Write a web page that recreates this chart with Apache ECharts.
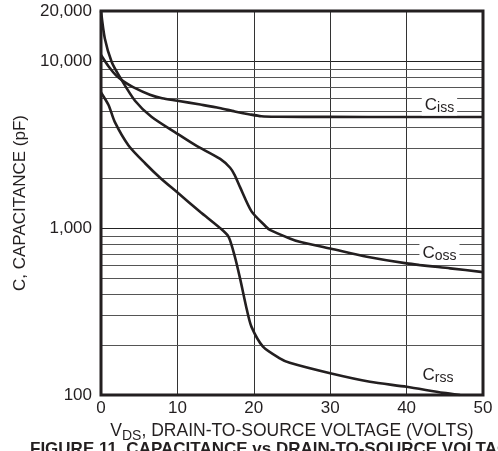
<!DOCTYPE html>
<html>
<head>
<meta charset="utf-8">
<style>
  html, body { margin: 0; padding: 0; background: #fff; }
  #main { width: 498px; height: 451px; }
</style>
<script src="https://cdn.jsdelivr.net/npm/echarts@6/dist/echarts.min.js"></script>
</head>
<body>
<div id="main"></div>
<script>
// V_DS (volts), C (pF)
const ciss = [
    [0, 10900], [1, 9300], [2, 8200], [3, 7550], [4.2, 7000], [6.4, 6300],
    [8, 6000], [10, 5800], [13, 5500], [15.5, 5250], [17.5, 5000], [19.5, 4800],
    [21, 4680], [23, 4650], [30, 4640], [40, 4630], [50, 4630]
];
const coss = [
    [0, 20000], [0.5, 13700], [1.4, 9900], [2.5, 8000], [4.45, 5800], [6.6, 4650],
    [9.9, 3700], [12.3, 3150], [15.6, 2600], [16.9, 2300], [17.5, 2080], [18.2, 1760],
    [19.7, 1260], [21.5, 1030], [22.1, 975], [24.7, 867], [26, 828], [30, 755],
    [34.8, 673], [40, 615], [45.7, 574], [50, 545]
];
const crss = [
    [0, 6500], [1, 5450], [1.8, 4330], [3.6, 3130], [5.8, 2440], [7.8, 1990],
    [9.9, 1650], [13, 1250], [15.6, 1000], [16.7, 887], [17.5, 680], [18.2, 500],
    [19.1, 323], [19.7, 256], [21.2, 195], [23.4, 166], [24.7, 156], [30, 135],
    [35.2, 120], [40, 112], [44.8, 103], [47, 100]
];
// minor log grid lines
const minorLines = [200, 300, 400, 500, 600, 700, 800, 900,
    2000, 3000, 4000, 5000, 6000, 7000, 8000, 9000];
// curve labels: [name, subscript, V, C]
const curveLabels = [
    ['C', 'iss', 44.3, 5500],
    ['C', 'oss', 44.3, 715],
    ['C', 'rss', 44.1, 133]
];

const ink = '#231f20';
const font = 'Liberation Sans';
const chart = echarts.init(document.getElementById('main'));

function labelPoint(l) {
    return {
        coord: [l[2], l[3]],
        label: {
            show: true,
            position: 'inside',
            formatter: l[0] + '{s|' + l[1] + '}',
            color: ink,
            fontFamily: font,
            fontSize: 17,
            backgroundColor: '#fff',
            padding: [1, 3, 0, 3],
            rich: {
                s: {fontFamily: font, fontSize: 14, color: ink, padding: [7, 0, 0, 0]}
            }
        }
    };
}

function curve(name, data, lbl) {
    return {
        name: name,
        type: 'line',
        data: data,
        showSymbol: false,
        smooth: 0.25,
        clip: true,
        z: 3,
        lineStyle: {color: ink, width: 2.6},
        markPoint: {
            silent: true,
            symbol: 'rect',
            symbolSize: 1,
            itemStyle: {color: 'rgba(0,0,0,0)'},
            z: 5,
            data: [labelPoint(lbl)]
        }
    };
}

const series = [
    curve('Ciss', ciss, curveLabels[0]),
    curve('Coss', coss, curveLabels[1]),
    curve('Crss', crss, curveLabels[2])
];
series[0].markLine = {
    silent: true,
    symbol: 'none',
    label: {show: false},
    z: 1,
    lineStyle: {color: '#555', width: 1, type: 'solid'},
    data: minorLines.map(v => ({yAxis: v}))
};

const option = {
    animation: false,
    backgroundColor: '#fff',
    textStyle: {fontFamily: font},
    grid: {
        left: 101, right: 15, top: 11, bottom: 56,
        show: true,
        borderColor: ink,
        borderWidth: 3,
        z: 4
    },
    graphic: [{
        type: 'text',
        left: 30,
        top: 441,
        style: {
            text: 'FIGURE 11. CAPACITANCE vs DRAIN-TO-SOURCE VOLTAGE',
            font: 'bold 17px "Liberation Sans"',
            fill: ink
        }
    }],
    xAxis: {
        type: 'value',
        min: 0, max: 50, interval: 10,
        axisLine: {show: false},
        axisTick: {show: false},
        axisLabel: {color: ink, fontSize: 17, margin: 5, fontFamily: font},
        splitLine: {show: true, lineStyle: {color: '#333', width: 1}},
        name: 'V{s|DS}, DRAIN-TO-SOURCE VOLTAGE (VOLTS)',
        nameLocation: 'middle',
        nameGap: 24,
        nameTextStyle: {
            color: ink, fontSize: 17.5, fontFamily: font,
            rich: {s: {fontSize: 14, color: ink, fontFamily: font, padding: [10, 0, 0, 0]}}
        }
    },
    yAxis: {
        type: 'log',
        logBase: 10,
        min: 100, max: 20000,
        axisLine: {show: false},
        axisTick: {show: false},
        axisLabel: {
            color: ink, fontSize: 17, margin: 9, fontFamily: font,
            formatter: v => Math.round(v).toLocaleString('en-US')
        },
        splitLine: {show: true, lineStyle: {color: '#222', width: 1}},
        name: 'C, CAPACITANCE (pF)',
        nameLocation: 'middle',
        nameGap: 72,
        nameTextStyle: {color: ink, fontSize: 17, fontFamily: font}
    },
    series: series
};

chart.setOption(option);
</script>
</body>
</html>
